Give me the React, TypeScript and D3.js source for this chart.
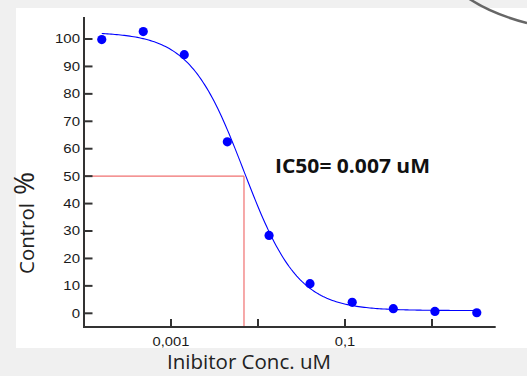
import React from "react";
import * as d3 from "d3";

const concentrations = [1.6e-4, 4.8e-4, 1.42e-3, 4.44e-3, 0.0134, 0.0396, 0.121, 0.359, 1.08, 3.27];
const controlPct = [99.8, 102.7, 94.3, 62.5, 28.4, 10.8, 4.0, 1.7, 0.7, 0.2];
const fitTop = 102.5;
const fitBottom = 1.0;
const ic50 = 0.0069;
const hill = 1.4;
const yTicks = [0, 10, 20, 30, 40, 50, 60, 70, 80, 90, 100];
const xTicks = [0.001, 0.01, 0.1, 1];
const xTickLabels = ["0,001", "", "0,1", ""];

export default function App() {
  const W = 527, H = 376;
  const x = d3.scaleLog().domain([1e-4, Math.pow(10, 0.732)]).range([84, 495.7]);
  const y = d3.scaleLinear().domain([0, 100]).range([313.3, 39]);
  const yTop = 17, yBot = 327;
  const model = (c: number) => fitBottom + (fitTop - fitBottom) / (1 + Math.pow(c / ic50, hill));
  const lx0 = Math.log10(concentrations[0]);
  const lx1 = Math.log10(concentrations[concentrations.length - 1]);
  const curvePts = d3.range(0, 201).map((i) => {
    const c = Math.pow(10, lx0 + ((lx1 - lx0) * i) / 200);
    return [x(c), y(model(c))] as [number, number];
  });
  const line = d3.line();
  const axisColor = "#333";
  const tickFont = "'Liberation Sans', Arial, sans-serif";
  return (
    <svg width={W} height={H} style={{ position: "absolute", left: 0, top: 0 }}>
      <rect x={0} y={0} width={W} height={H} fill="#f0f0f0" />
      <rect x={16} y={8} width={W - 16} height={340} fill="#ffffff" />
      <path d="M 468 -2 Q 492 14 527 23" fill="none" stroke="#666" strokeWidth={2.5} />
      {/* red IC50 guides */}
      <line x1={84} x2={x(ic50)} y1={y(50)} y2={y(50)} stroke="#f07070" strokeWidth={1.2} />
      <line x1={x(ic50)} x2={x(ic50)} y1={y(50)} y2={yBot} stroke="#f07070" strokeWidth={1.2} />
      {/* axes */}
      <line x1={84} x2={84} y1={yTop} y2={yBot + 1} stroke={axisColor} strokeWidth={2} />
      <line x1={83} x2={495.7} y1={yBot} y2={yBot} stroke={axisColor} strokeWidth={2} />
      {yTicks.map((t) => (
        <g key={t}>
          <line x1={84} x2={92.5} y1={y(t)} y2={y(t)} stroke={axisColor} strokeWidth={2} />
          <text transform={`translate(80,${y(t) + 4.4}) scale(1.2,1)`} textAnchor="end" fontFamily={tickFont} fontSize={12.5} fill="#1a1a1a">
            {t}
          </text>
        </g>
      ))}
      {xTicks.map((t, i) => (
        <g key={t}>
          <line x1={x(t)} x2={x(t)} y1={yBot} y2={yBot - 8} stroke={axisColor} strokeWidth={2} />
          {xTickLabels[i] && (
            <text transform={`translate(${x(t)},345.8) scale(1.15,1)`} textAnchor="middle" fontFamily={tickFont} fontSize={12.8} fill="#1a1a1a">
              {xTickLabels[i]}
            </text>
          )}
        </g>
      ))}
      {/* fit curve */}
      <path d={line(curvePts) || ""} fill="none" stroke="#0000ff" strokeWidth={1.1} />
      {concentrations.map((c, i) => (
        <circle key={i} cx={x(c)} cy={y(controlPct[i])} r={4.6} fill="#0000ff" />
      ))}
      <text x={352.5} y={172.7} textAnchor="middle" fontFamily="'Open Sans', sans-serif" fontWeight="bold" fontSize={19} fill="#111" textLength={155} lengthAdjust="spacingAndGlyphs">
        IC50= 0.007 uM
      </text>
      <text transform="translate(33.5,274) rotate(-90)" textAnchor="start" fontFamily="'Open Sans', sans-serif" fill="#222">
        <tspan fontSize={20.5}>Control</tspan>
        <tspan fontSize={28} dx={8}>%</tspan>
      </text>
      <text x={249} y={368.5} textAnchor="middle" fontFamily="'Open Sans', sans-serif" fontSize={20.5} fill="#222">
        Inibitor Conc. uM
      </text>
    </svg>
  );
}
